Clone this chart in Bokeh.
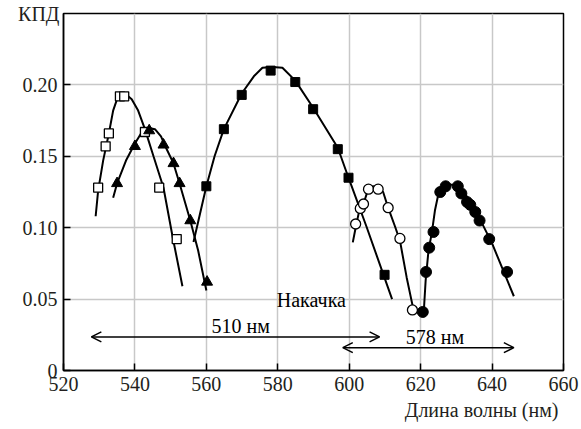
from bokeh.plotting import figure
from bokeh.embed import file_html
from bokeh.resources import INLINE
from bokeh.models import Arrow, OpenHead, FixedTicker, Range1d, Title
from bokeh.core.properties import value

# ---- data ----
# open squares
sq_open_x = [529.7, 531.8, 532.7, 535.8, 537.0, 542.8, 546.8, 551.7]
sq_open_y = [0.128, 0.157, 0.166, 0.192, 0.192, 0.167, 0.128, 0.092]
sq_open_cx = [529.0, 529.7, 531.1, 532.7, 533.9, 535.0, 536.3, 537.7, 539.1, 540.9, 542.8, 545.2, 548.0, 550.6, 553.3]
sq_open_cy = [0.108, 0.126, 0.147, 0.166, 0.182, 0.190, 0.193, 0.193, 0.190, 0.182, 0.169, 0.150, 0.128, 0.093, 0.059]

# filled triangles
tri_x = [535.0, 540.0, 544.0, 548.0, 550.8, 552.5, 555.5, 560.2]
tri_y = [0.131, 0.157, 0.168, 0.158, 0.145, 0.131, 0.105, 0.062]
tri_cx = [533.9, 535.0, 537.5, 540.0, 541.7, 543.7, 545.6, 547.3, 548.7, 550.8, 552.5, 555.5, 557.7, 560.0]
tri_cy = [0.121, 0.131, 0.147, 0.159, 0.166, 0.170, 0.169, 0.164, 0.156, 0.145, 0.131, 0.105, 0.084, 0.056]

# filled squares
sq_fill_x = [560.0, 564.9, 569.9, 578.0, 584.9, 589.9, 596.8, 599.8, 609.9]
sq_fill_y = [0.129, 0.169, 0.193, 0.210, 0.202, 0.183, 0.155, 0.135, 0.067]
sq_fill_cx = [556.4, 560.0, 562.3, 564.9, 569.9, 573.3, 575.7, 578.5, 581.3, 584.9, 589.9, 596.8, 599.8, 604.8, 612.0]
sq_fill_cy = [0.090, 0.129, 0.150, 0.169, 0.194, 0.206, 0.212, 0.2126, 0.212, 0.203, 0.184, 0.156, 0.135, 0.101, 0.050]

# open circles
ci_open_x = [601.8, 603.1, 604.0, 605.4, 608.1, 610.9, 614.2, 617.7]
ci_open_y = [0.1026, 0.1135, 0.1166, 0.127, 0.127, 0.114, 0.0925, 0.0424]
ci_open_cx = [601.0, 601.8, 602.9, 604.0, 605.3, 606.7, 608.1, 609.5, 610.9, 612.8, 614.2, 616.1, 618.2]
ci_open_cy = [0.0897, 0.100, 0.113, 0.1166, 0.127, 0.129, 0.128, 0.125, 0.114, 0.101, 0.091, 0.065, 0.040]

# filled circles
ci_fill_x = [620.6, 621.5, 622.4, 623.6, 625.5, 627.0, 630.4, 631.4, 633.0, 633.9, 635.3, 636.5, 639.2, 644.2]
ci_fill_y = [0.041, 0.069, 0.086, 0.097, 0.125, 0.129, 0.129, 0.124, 0.118, 0.116, 0.111, 0.105, 0.092, 0.069]
ci_fill_cx = [620.9, 621.4, 622.2, 623.1, 624.0, 625.0, 626.4, 627.8, 630.1, 632.0, 634.4, 637.2, 640.0, 642.8, 646.1]
ci_fill_cy = [0.042, 0.063, 0.084, 0.096, 0.112, 0.124, 0.128, 0.130, 0.130, 0.126, 0.115, 0.103, 0.089, 0.072, 0.052]

# pump arrows and annotations
pump1_x = [527.8, 608.5]
pump1_y = 0.0235
pump2_x = [598.2, 646.1]
pump2_y = 0.016
note_x = [569.6, 624.0, 589.4]
note_y = [0.0238, 0.0161, 0.042]
note_text = ["510 нм", "578 нм", "Накачка"]

x_ticks = [520, 540, 560, 580, 600, 620, 640, 660]
y_ticks = [0, 0.05, 0.10, 0.15, 0.20]
y_tick_labels = ["0", "0.05", "0.10", "0.15", "0.20"]

FONT = "Liberation Serif"
TXT = "#231f20"
FS = "20px"

p = figure(width=581, height=429, output_backend="svg", toolbar_location=None,
           x_range=Range1d(520, 660), y_range=Range1d(0, 0.25),
           min_border_left=63, min_border_right=18, min_border_top=13, min_border_bottom=59)

p.outline_line_color = "black"
p.outline_line_width = 1.5
p.background_fill_color = "white"

for ax in (p.xaxis[0], p.yaxis[0]):
    ax.axis_line_color = "black"
    ax.axis_line_width = 1.5
    ax.major_tick_in = 7
    ax.major_tick_out = 0
    ax.major_tick_line_color = "black"
    ax.major_tick_line_width = 1.5
    ax.minor_tick_line_color = None
    ax.major_label_text_font = FONT
    ax.major_label_text_font_size = FS
    ax.major_label_text_color = TXT

p.xaxis.ticker = FixedTicker(ticks=x_ticks)
p.yaxis.ticker = FixedTicker(ticks=y_ticks)
p.yaxis.major_label_overrides = {t: l for t, l in zip(y_ticks, y_tick_labels)}
p.xaxis.major_label_standoff = 6
p.yaxis.major_label_standoff = 6

# y axis title "КПД", horizontal, at the top of the axis
p.yaxis.axis_label = "КПД"
p.yaxis.axis_label_text_font = FONT
p.yaxis.axis_label_text_font_size = FS
p.yaxis.axis_label_text_font_style = "normal"
p.yaxis.axis_label_text_color = TXT
p.yaxis.axis_label_orientation = "horizontal"
p.yaxis.axis_label_align = "end"
p.yaxis.axis_label_standoff = -40

# x axis title, right aligned, below
p.add_layout(Title(text="Длина волны (нм)", align="right", offset=5, standoff=6,
                   text_font=FONT, text_font_size=FS, text_font_style="normal",
                   text_color=TXT), "below")

p.xgrid.ticker = FixedTicker(ticks=x_ticks)
p.ygrid.ticker = FixedTicker(ticks=y_ticks + [0.25])
p.grid.grid_line_color = "#c8c8c8"
p.grid.grid_line_width = 1.5

LW = 2
p.line(sq_open_cx, sq_open_cy, line_color="black", line_width=LW)
p.line(tri_cx, tri_cy, line_color="black", line_width=LW)
p.line(sq_fill_cx, sq_fill_cy, line_color="black", line_width=LW)
p.line(ci_open_cx, ci_open_cy, line_color="black", line_width=LW)
p.line(ci_fill_cx, ci_fill_cy, line_color="black", line_width=LW)

p.scatter(sq_open_x, sq_open_y, marker="square", size=9, fill_color="white", line_color="black", line_width=1.3)
p.scatter(tri_x, tri_y, marker="triangle", size=11, fill_color="black", line_color="black")
p.scatter(sq_fill_x, sq_fill_y, marker="square", size=9, fill_color="black", line_color="black")
p.scatter(ci_open_x, ci_open_y, marker="circle", size=10, fill_color="white", line_color="black", line_width=1.3)
p.scatter(ci_fill_x, ci_fill_y, marker="circle", size=11, fill_color="black", line_color="black")

for xs, yv in ((pump1_x, pump1_y), (pump2_x, pump2_y)):
    p.add_layout(Arrow(x_start=xs[0], y_start=yv, x_end=xs[1], y_end=yv,
                       line_color="black", line_width=1.5,
                       start=OpenHead(size=10, line_width=1.5, line_color="black"),
                       end=OpenHead(size=10, line_width=1.5, line_color="black")))

p.text(x=note_x, y=note_y, text=note_text, text_font=value(FONT), text_font_size=value(FS),
       text_align="center")

open("out.html", "w").write(file_html(p, INLINE))
